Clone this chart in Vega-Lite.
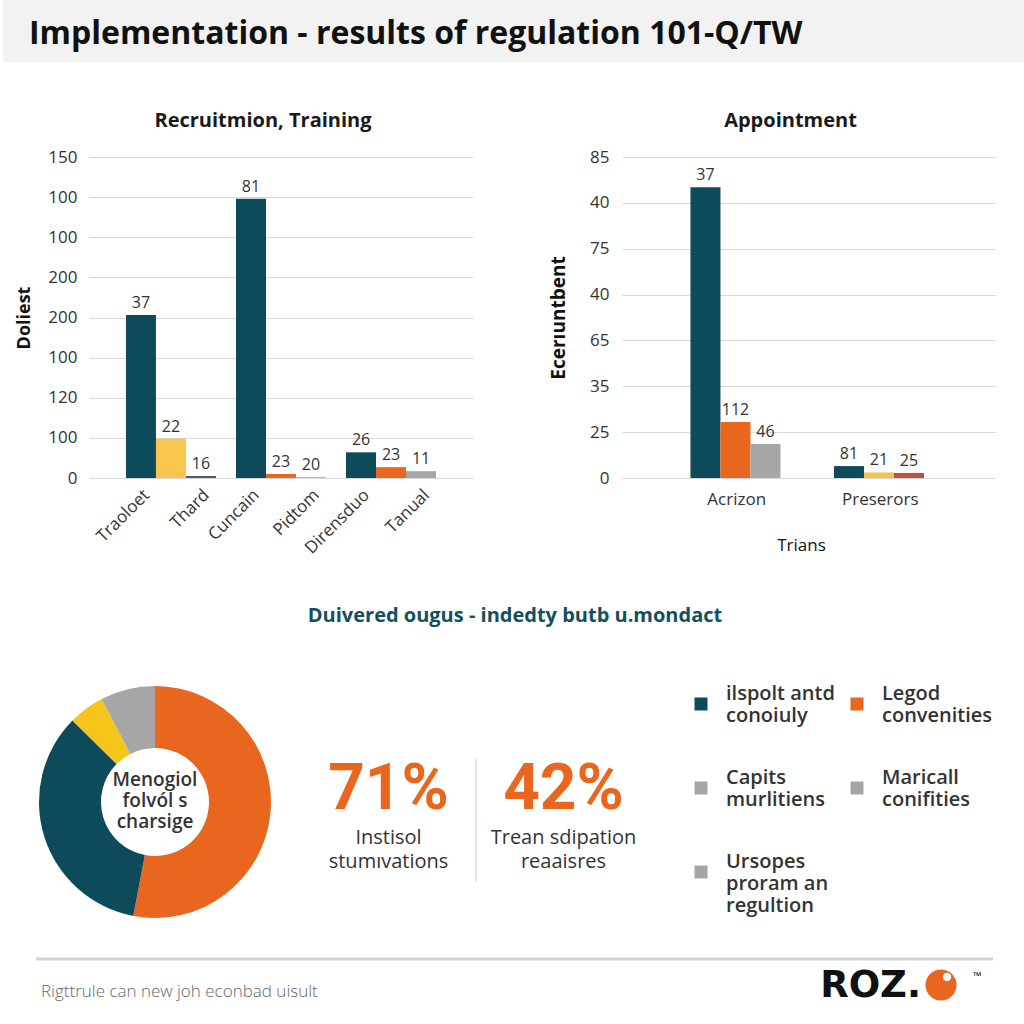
{
  "$schema": "https://vega.github.io/schema/vega-lite/v6.json",
  "padding": 0,
  "background": "white",
  "spacing": 0,
  "resolve": {"scale": {"color": "independent"}, "legend": {"color": "independent"}},
  "datasets": {
    "leftBars": [
      {"group": "G1", "series": "S1", "kind": "A", "value": 81.2, "label": "37"},
      {"group": "G1", "series": "S2", "kind": "B", "value": 19.6, "label": "22"},
      {"group": "G1", "series": "S3", "kind": "E", "value": 1.0, "label": "16"},
      {"group": "G2", "series": "S1", "kind": "A", "value": 139.2, "label": "81"},
      {"group": "G2", "series": "S2", "kind": "C", "value": 2.0, "label": "23"},
      {"group": "G2", "series": "S3", "kind": "D", "value": 0.4, "label": "20"},
      {"group": "G3", "series": "S1", "kind": "A", "value": 12.8, "label": "26"},
      {"group": "G3", "series": "S2", "kind": "C", "value": 5.4, "label": "23"},
      {"group": "G3", "series": "S3", "kind": "D", "value": 3.4, "label": "11"}
    ],
    "leftTicks": [
      {"group": "G1", "series": "S1", "name": "Traoloet"},
      {"group": "G1", "series": "S3", "name": "Thard"},
      {"group": "G2", "series": "S1", "name": "Cuncain"},
      {"group": "G2", "series": "S3", "name": "Pidtom"},
      {"group": "G3", "series": "S1", "name": "Dirensduo"},
      {"group": "G3", "series": "S3", "name": "Tanual"}
    ],
    "rightBars": [
      {"group": "Acrizon", "series": "S1", "kind": "A", "value": 126.8, "label": "37"},
      {"group": "Acrizon", "series": "S2", "kind": "C", "value": 24.4, "label": "112"},
      {"group": "Acrizon", "series": "S3", "kind": "D", "value": 14.8, "label": "46"},
      {"group": "Preserors", "series": "S1", "kind": "A", "value": 5.2, "label": "81"},
      {"group": "Preserors", "series": "S2", "kind": "B", "value": 2.4, "label": "21"},
      {"group": "Preserors", "series": "S3", "kind": "F", "value": 2.2, "label": "25"}
    ],
    "donut": [
      {"segment": "Part 1", "share": 53.0},
      {"segment": "Part 2", "share": 34.4},
      {"segment": "Part 3", "share": 5.0},
      {"segment": "Part 4", "share": 7.6}
    ],
    "stats": [
      {"label": "Instisol\nstumıvations", "share": 0.71},
      {"label": "Trean sdipation\nreaaisres", "share": 0.42}
    ],
    "legendItems": [
      {"item": "ilspolt antd|conoiuly"},
      {"item": "Legod|convenities"},
      {"item": "Capits|murlitiens"},
      {"item": "Maricall|conifities"},
      {"item": "Ursopes|proram an|regultion"}
    ],
    "footer": [
      {"slot": "note", "text": "Rigttrule can new joh econbad uisult"},
      {"slot": "brand", "text": "ROZ."}
    ]
  },
  "vconcat": [
    {
      "width": 1024,
      "height": 62,
      "view": {"fill": "#f2f2f2", "stroke": null},
      "data": {"values": [{"heading": "Implementation - results of regulation 101-Q/TW"}]},
      "mark": {"type": "text", "align": "left", "baseline": "middle", "fontSize": 32, "fontWeight": 700, "color": "#111111", "dx": 26, "dy": 3},
      "encoding": {
        "text": {"field": "heading"},
        "x": {"datum": 0, "type": "quantitative", "scale": {"domain": [0, 1]}, "axis": null}
      }
    },
    {"width": 1, "height": 49, "data": {"values": [{}]}, "mark": {"type": "point", "opacity": 0}},
    {
      "bounds": "flush",
      "spacing": 0,
      "resolve": {"scale": {"color": "independent"}, "legend": {"color": "independent"}},
      "hconcat": [
        {"width": 86, "height": 1, "data": {"values": [{}]}, "mark": {"type": "point", "opacity": 0}},
        {
          "width": 384,
          "height": 321,
          "title": {"text": "Recruitmion, Training", "fontSize": 20, "fontWeight": 700, "color": "#1a1a1a", "offset": -3, "dx": -18, "frame": "group", "anchor": "middle", "baseline": "bottom"},
          "layer": [
            {
              "data": {"name": "leftBars"},
              "mark": {"type": "bar"},
              "encoding": {
                "x": {"field": "group", "type": "nominal", "sort": null, "axis": null, "scale": {"paddingInner": 0.182, "paddingOuter": 0.336}},
                "xOffset": {"field": "series", "type": "nominal", "sort": null, "scale": {"paddingInner": 0, "paddingOuter": 0}},
                "y": {
                  "field": "value", "type": "quantitative",
                  "scale": {"domain": [0, 160]},
                  "axis": {
                    "values": [0, 20, 40, 60, 80, 100, 120, 140, 160],
                    "labelExpr": "['0','100','120','100','200','200','100','100','150'][datum.value/20]",
                    "title": "Doliest", "titleFontSize": 18, "titleFontWeight": 700, "titlePadding": 14,
                    "labelFontSize": 17, "labelPadding": 12, "grid": true
                  }
                },
                "color": {
                  "field": "kind", "type": "nominal",
                  "scale": {"domain": ["A", "B", "C", "D", "E", "F"], "range": ["#0e4b5a", "#f8c54f", "#e8661e", "#a6a6a6", "#4d5d72", "#b9553a"]},
                  "legend": null
                }
              }
            },
            {
              "data": {"name": "leftBars"},
              "mark": {"type": "text", "baseline": "alphabetic", "dy": -7, "fontSize": 16, "color": "#333333"},
              "encoding": {
                "x": {"field": "group", "type": "nominal", "sort": null, "axis": null},
                "xOffset": {"field": "series", "type": "nominal", "sort": null},
                "y": {"field": "value", "type": "quantitative"},
                "text": {"field": "label"}
              }
            },
            {
              "data": {"name": "leftTicks"},
              "mark": {"type": "text", "angle": 315, "align": "right", "baseline": "top", "fontSize": 17, "color": "#333333", "yOffset": 9},
              "encoding": {
                "x": {"field": "group", "type": "nominal", "sort": null, "axis": null},
                "xOffset": {"field": "series", "type": "nominal", "sort": null},
                "y": {"datum": 0, "type": "quantitative"},
                "text": {"field": "name"}
              }
            }
          ]
        },
        {"width": 149, "height": 1, "data": {"values": [{}]}, "mark": {"type": "point", "opacity": 0}},
        {
          "width": 373,
          "height": 321,
          "title": {"text": "Appointment", "fontSize": 20, "fontWeight": 700, "color": "#1a1a1a", "offset": -3, "dx": -18, "frame": "group", "anchor": "middle", "baseline": "bottom"},
          "layer": [
            {
              "data": {"name": "rightBars"},
              "mark": {"type": "bar"},
              "encoding": {
                "x": {
                  "field": "group", "type": "nominal", "sort": null,
                  "scale": {"paddingInner": 0.355, "paddingOuter": 0.477},
                  "axis": {"labelAngle": 0, "labelFontSize": 17, "labelPadding": 13, "title": "Trians", "titleFontSize": 17, "titleFontWeight": 400, "titlePadding": 30, "titleX": 179, "grid": false}
                },
                "xOffset": {"field": "series", "type": "nominal", "sort": null, "scale": {"paddingInner": 0, "paddingOuter": 0}},
                "y": {
                  "field": "value", "type": "quantitative",
                  "scale": {"domain": [0, 140]},
                  "axis": {
                    "values": [0, 20, 40, 60, 80, 100, 120, 140],
                    "labelExpr": "['0','25','35','65','40','75','40','85'][datum.value/20]",
                    "title": "Ecerıuntbent", "titleFontSize": 19, "titleFontWeight": 700, "titlePadding": 21,
                    "labelFontSize": 17, "labelPadding": 13, "grid": true
                  }
                },
                "color": {
                  "field": "kind", "type": "nominal",
                  "scale": {"domain": ["A", "B", "C", "D", "E", "F"], "range": ["#0e4b5a", "#f3c24a", "#e8661e", "#a6a6a6", "#4d5d72", "#b9553a"]},
                  "legend": null
                }
              }
            },
            {
              "data": {"name": "rightBars"},
              "mark": {"type": "text", "baseline": "alphabetic", "dy": -7, "fontSize": 16, "color": "#333333"},
              "encoding": {
                "x": {"field": "group", "type": "nominal", "sort": null},
                "xOffset": {"field": "series", "type": "nominal", "sort": null},
                "y": {"field": "value", "type": "quantitative"},
                "text": {"field": "label"}
              }
            }
          ]
        }
      ]
    },
    {"width": 1, "height": 49, "data": {"values": [{}]}, "mark": {"type": "point", "opacity": 0}},
    {
      "width": 1024,
      "height": 20,
      "data": {"values": [{"subtitle": "Duivered ougus - indedty butb u.mondact"}]},
      "mark": {"type": "text", "fontSize": 20, "fontWeight": 700, "color": "#12505e"},
      "encoding": {"text": {"field": "subtitle"}}
    },
    {"width": 1, "height": 57, "data": {"values": [{}]}, "mark": {"type": "point", "opacity": 0}},
    {
      "bounds": "flush",
      "spacing": 0,
      "resolve": {"scale": {"color": "independent"}, "legend": {"color": "independent"}},
      "hconcat": [
        {"width": 36, "height": 1, "data": {"values": [{}]}, "mark": {"type": "point", "opacity": 0}},
        {
          "width": 232,
          "height": 232,
          "layer": [
            {
              "data": {"name": "donut"},
              "mark": {"type": "arc", "innerRadius": 54, "outerRadius": 116},
              "encoding": {
                "theta": {"field": "share", "type": "quantitative", "stack": true},
                "order": {"field": "segment", "type": "ordinal"},
                "color": {
                  "field": "segment", "type": "nominal",
                  "scale": {"domain": ["Part 1", "Part 2", "Part 3", "Part 4"], "range": ["#e8661e", "#0e4b5a", "#f6c519", "#a6a6a6"]},
                  "legend": null
                }
              }
            },
            {
              "data": {"values": [{"caption": "Menogiol\nfolvól s\ncharsige"}]},
              "mark": {"type": "text", "lineBreak": "\n", "fontSize": 19, "fontWeight": 600, "lineHeight": 21, "dy": -22, "color": "#333333"},
              "encoding": {"text": {"field": "caption"}}
            }
          ]
        },
        {"width": 30, "height": 1, "data": {"values": [{}]}, "mark": {"type": "point", "opacity": 0}},
        {
          "width": 350,
          "height": 232,
          "data": {"name": "stats"},
          "encoding": {
            "x": {"field": "label", "type": "nominal", "sort": null, "axis": null, "scale": {"paddingInner": 0, "paddingOuter": 0}}
          },
          "layer": [
            {
              "mark": {"type": "text", "fontSize": 64, "fontWeight": 700, "font": "Roboto", "color": "#e8661e", "baseline": "middle"},
              "encoding": {
                "y": {"datum": 0.45, "type": "quantitative", "scale": {"domain": [0, 1], "reverse": true}, "axis": null},
                "text": {"field": "share", "type": "quantitative", "format": ".0%"}
              }
            },
            {
              "mark": {"type": "text", "fontSize": 20, "lineBreak": "\n", "lineHeight": 24, "color": "#333333", "baseline": "middle"},
              "encoding": {
                "y": {"datum": 0.655, "type": "quantitative"},
                "text": {"field": "label"}
              }
            },
            {
              "transform": [{"filter": "datum.share < 0.5"}],
              "mark": {"type": "rule", "color": "#cccccc", "strokeWidth": 1},
              "encoding": {
                "x": {"field": "label", "type": "nominal", "sort": null, "bandPosition": 0},
                "y": {"datum": 0.315, "type": "quantitative"},
                "y2": {"datum": 0.845}
              }
            }
          ]
        },
        {"width": 47, "height": 1, "data": {"values": [{}]}, "mark": {"type": "point", "opacity": 0}},
        {
          "width": 1,
          "height": 232,
          "data": {"name": "legendItems"},
          "mark": {"type": "square", "opacity": 0, "filled": true},
          "encoding": {
            "color": {
              "field": "item", "type": "nominal", "sort": null,
              "scale": {
                "domain": ["ilspolt antd|conoiuly", "Legod|convenities", "Capits|murlitiens", "Maricall|conifities", "Ursopes|proram an|regultion"],
                "range": ["#0e4b5a", "#e8661e", "#a6a6a6", "#a6a6a6", "#a6a6a6"]
              },
              "legend": {
                "orient": "none", "legendX": -7, "legendY": 8, "columns": 2, "direction": "horizontal", "gridAlign": "each",
                "title": null, "padding": 0,
                "symbolType": "square", "symbolSize": 169, "symbolStrokeWidth": 0, "symbolOpacity": 1,
                "labelFontSize": 20, "labelFontWeight": 600, "labelColor": "#333333", "labelOffset": 15, "labelLimit": 300,
                "labelBaseline": "bottom",
                "labelExpr": "split(datum.label, '|')",
                "rowPadding": 42, "columnPadding": 12
              }
            }
          }
        }
      ]
    },
    {"width": 1, "height": 38, "data": {"values": [{}]}, "mark": {"type": "point", "opacity": 0}},
    {
      "bounds": "flush",
      "spacing": 0,
      "hconcat": [
        {"width": 33, "height": 1, "data": {"values": [{}]}, "mark": {"type": "point", "opacity": 0}},
        {
          "width": 957,
          "height": 66,
          "encoding": {
            "x": {"field": "slot", "type": "nominal", "scale": {"type": "point", "domain": ["note", "brand"], "padding": 0}, "axis": null}
          },
          "layer": [
            {
              "data": {"values": [{}]},
              "mark": {"type": "rule", "color": "#d3d3d3", "strokeWidth": 3},
              "encoding": {
                "x": null,
                "y": {"datum": 1, "type": "quantitative", "scale": {"domain": [0, 1]}, "axis": null}
              }
            },
            {
              "data": {"name": "footer"},
              "transform": [{"filter": "datum.slot == 'note'"}],
              "mark": {"type": "text", "align": "left", "fontSize": 17, "fontWeight": 300, "color": "#666666", "dx": 5},
              "encoding": {"text": {"field": "text"}}
            },
            {
              "data": {"name": "footer"},
              "transform": [{"filter": "datum.slot == 'brand'"}],
              "mark": {"type": "text", "align": "right", "fontSize": 37, "fontWeight": 700, "font": "DejaVu Sans", "color": "#111111", "dx": -72, "dy": -6},
              "encoding": {"text": {"field": "text"}}
            },
            {
              "data": {"name": "footer"},
              "transform": [{"filter": "datum.slot == 'brand'"}],
              "mark": {"type": "point", "filled": true, "color": "#e8661e", "opacity": 1, "size": 962, "strokeWidth": 0, "xOffset": -52, "yOffset": -7}
            },
            {
              "data": {"name": "footer"},
              "transform": [{"filter": "datum.slot == 'brand'"}],
              "mark": {"type": "point", "filled": true, "color": "#ffffff", "opacity": 1, "size": 70, "strokeWidth": 0, "xOffset": -46, "yOffset": -15}
            },
            {
              "data": {"name": "footer"},
              "transform": [{"filter": "datum.slot == 'brand'"}],
              "mark": {"type": "text", "text": "™", "align": "left", "fontSize": 11, "fontWeight": 700, "color": "#111111", "dx": -20, "dy": -15}
            }
          ]
        }
      ]
    }
  ],
  "config": {
    "view": {"stroke": null},
    "font": "Open Sans",
    "axis": {"labelColor": "#333333", "titleColor": "#111111", "gridColor": "#d9d9d9", "domain": false, "ticks": false}
  }
}
